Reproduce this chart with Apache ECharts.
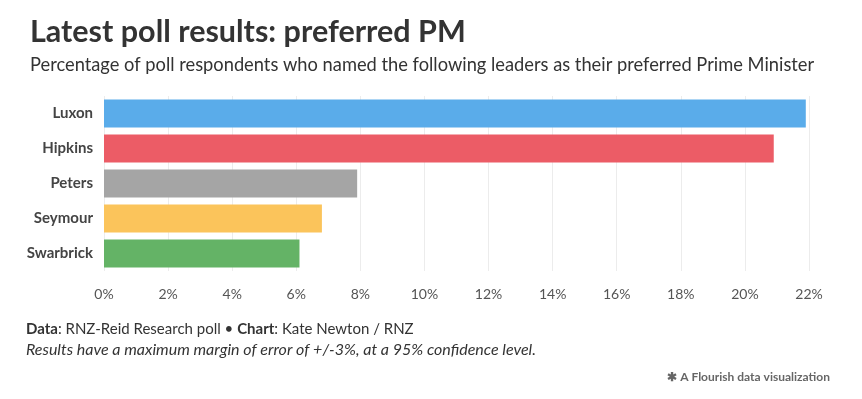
<!DOCTYPE html>
<html>
<head>
<meta charset="utf-8">
<script src="https://cdn.jsdelivr.net/npm/echarts@6/dist/echarts.min.js"></script>
<style>
  html, body { margin: 0; padding: 0; background: #fff; }
  #chartArea { width: 862px; height: 399px; }
</style>
</head>
<body>
<div id="chartArea"></div>
<script>
let leaders = ['Luxon', 'Hipkins', 'Peters', 'Seymour', 'Swarbrick'];
let values = [21.9, 20.9, 7.9, 6.8, 6.1];
let barColors = ['#5aacea', '#ec5c66', '#a5a5a5', '#fbc45b', '#64b366'];
let fontFam = 'Lato, "Noto Sans", sans-serif';

let myChart = echarts.init(document.getElementById('chartArea'));

let option = {
    backgroundColor: '#fff',
    animation: false,
    title: [
        {
            text: 'Latest poll results: preferred PM',
            left: 25,
            top: 12,
            textStyle: {fontFamily: fontFam, fontSize: 30.5, fontWeight: 'bold', color: '#333'}
        },
        {
            text: 'Percentage of poll respondents who named the following leaders as their preferred Prime Minister',
            left: 25,
            top: 51,
            textStyle: {fontFamily: fontFam, fontSize: 18.3, fontWeight: 'normal', color: '#333'}
        }
    ],
    grid: {
        left: 104,
        right: 53,
        top: 96,
        height: 175
    },
    xAxis: {
        type: 'value',
        min: 0,
        max: 22,
        interval: 2,
        axisLine: {show: false},
        axisTick: {show: false},
        splitLine: {lineStyle: {color: '#ececec', width: 1}},
        axisLabel: {
            formatter: '{value}%',
            color: '#555',
            fontSize: 14,
            fontFamily: fontFam,
            margin: 16
        }
    },
    yAxis: {
        type: 'category',
        inverse: true,
        data: leaders,
        axisLine: {show: false},
        axisTick: {show: false},
        axisLabel: {
            color: '#444',
            fontSize: 15,
            fontWeight: 'bold',
            fontFamily: fontFam,
            margin: 11
        }
    },
    series: [
        {
            type: 'bar',
            barCategoryGap: '20%',
            data: values.map(function (v, i) {
                return {value: v, itemStyle: {color: barColors[i]}};
            })
        }
    ],
    graphic: [
        {
            type: 'text',
            left: 26,
            top: 322,
            style: {
                text: '{b|Data}: RNZ-Reid Research poll • {b|Chart}: Kate Newton / RNZ',
                rich: {
                    b: {fontFamily: fontFam, fontSize: 15, fontWeight: 'bold', fill: '#333'}
                },
                font: '15px ' + fontFam,
                fill: '#333'
            }
        },
        {
            type: 'text',
            left: 26,
            top: 342,
            style: {
                text: 'Results have a maximum margin of error of +/-3%, at a 95% confidence level.',
                font: 'italic 16px ' + fontFam,
                fill: '#333'
            }
        },
        {
            type: 'text',
            right: 32,
            top: 371,
            style: {
                text: '✱ A Flourish data visualization',
                font: 'bold 12px ' + fontFam,
                fill: '#666'
            }
        }
    ]
};

myChart.setOption(option);
</script>
</body>
</html>
